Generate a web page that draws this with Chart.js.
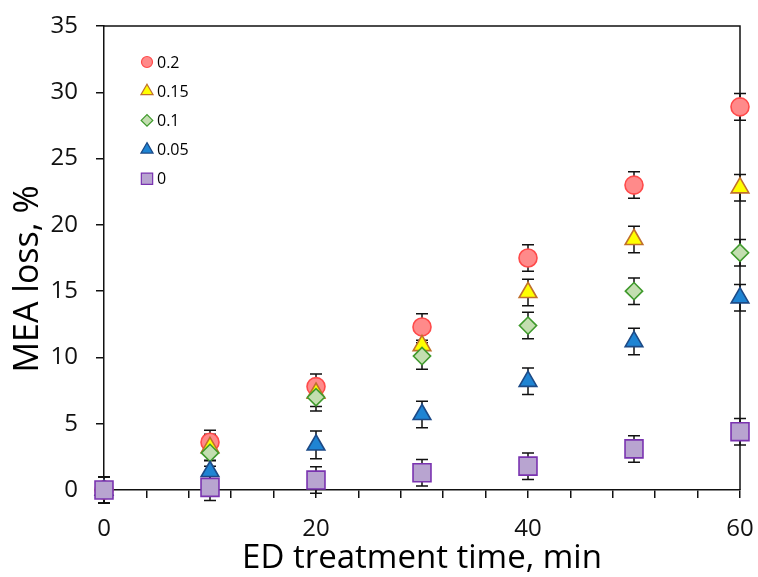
<!DOCTYPE html>
<html>
<head>
<meta charset="utf-8">
<title>MEA loss</title>
<script src="https://cdn.jsdelivr.net/npm/chart.js@4.4.1/dist/chart.umd.min.js"></script>
<style>
  html, body { margin: 0; padding: 0; background: #fff; }
  #wrap { width: 758px; height: 577px; position: relative; }
</style>
</head>
<body>
<div id="wrap"><canvas id="chart"></canvas></div>
<script>
// ED treatment time, min
const times = [0, 10, 20, 30, 40, 50, 60];

// MEA loss, % for each series (legend label)
const seriesLabels = ['0.2', '0.15', '0.1', '0.05', '0'];
const loss02 = [0, 3.6, 7.8, 12.3, 17.5, 23.0, 28.9];
const loss015 = [0, 3.2, 7.3, 10.9, 14.9, 18.9, 22.8];
const loss01 = [0, 2.8, 7.0, 10.1, 12.4, 15.0, 17.9];
const loss005 = [0, 1.4, 3.4, 5.7, 8.2, 11.2, 14.5];
const loss0 = [0, 0.2, 0.75, 1.3, 1.8, 3.1, 4.4];

// error bar half-heights
const err02 = [1, 0.9, 0.95, 1, 1, 1, 1];
const err015 = [1, 1, 1, 1, 1, 1, 1];
const err01 = [1, 1, 1.05, 1, 1, 1, 1];
const err005 = [1, 0.85, 1.05, 1, 1, 1, 1];
const err0 = [1, 1, 1, 1, 1, 1, 1];

const yTicks = { min: 0, max: 35, step: 5 };
const xTicks = { min: 0, max: 60, step: 4, labelEvery: 20 };
const yTitle = 'MEA loss, %';
const xTitle = 'ED treatment time, min';

const styles = [
  { shape: 'circle', radius: 9, legendRadius: 5.5, fill: '#ff8a8a', stroke: '#ff4a4a' },
  { shape: 'triangle', radius: 10.2, legendRadius: 7, fill: '#ffff00', stroke: '#c0702c' },
  { shape: 'rectRot', radius: 8.6, legendRadius: 5.8, fill: '#c3deb0', stroke: '#3f9a2c' },
  { shape: 'triangle', radius: 10.2, legendRadius: 7, fill: '#1f84d3', stroke: '#1d4a86' },
  { shape: 'rect', radius: 12.7, legendRadius: 8, fill: '#b8a4d0', stroke: '#7a33b0' }
];

const values = [loss02, loss015, loss01, loss005, loss0];
const errors = [err02, err015, err01, err005, err0];

const FONT = "'Open Sans', 'DejaVu Sans', sans-serif";

const datasets = values.map((v, i) => ({
  label: seriesLabels[i],
  data: times.map((t, j) => ({ x: t, y: v[j] })),
  errors: errors[i],
  pointStyle: styles[i].shape,
  pointRadius: styles[i].radius,
  pointHoverRadius: styles[i].radius,
  backgroundColor: styles[i].fill,
  borderColor: styles[i].stroke,
  pointBorderWidth: 1.6,
  showLine: false,
  clip: false,
  order: values.length - i
}));

const frame = {
  id: 'frame',
  beforeDatasetsDraw(chart) {
    const { ctx, chartArea: a } = chart;
    ctx.save();
    ctx.strokeStyle = '#111';
    ctx.lineWidth = 1.5;
    ctx.beginPath();
    ctx.moveTo(a.left, a.top);
    ctx.lineTo(a.right, a.top);
    ctx.lineTo(a.right, a.bottom);
    ctx.stroke();
    ctx.restore();
  }
};

const errorBars = {
  id: 'errorBars',
  beforeDatasetsDraw(chart) {
    const { ctx, scales: { x, y } } = chart;
    ctx.save();
    ctx.strokeStyle = '#111';
    ctx.lineWidth = 1.5;
    chart.data.datasets.forEach(ds => {
      ds.data.forEach((p, j) => {
        const e = ds.errors[j];
        const px = x.getPixelForValue(p.x);
        const top = y.getPixelForValue(p.y + e);
        const bot = y.getPixelForValue(p.y - e);
        ctx.beginPath();
        ctx.moveTo(px, top); ctx.lineTo(px, bot);
        ctx.moveTo(px - 6, top); ctx.lineTo(px + 6, top);
        ctx.moveTo(px - 6, bot); ctx.lineTo(px + 6, bot);
        ctx.stroke();
      });
    });
    ctx.restore();
  }
};

// y title sits a little below the middle of the plot, as in the original
const yTitlePlugin = {
  id: 'yTitle',
  afterDraw(chart) {
    const { ctx, chartArea: a } = chart;
    ctx.save();
    ctx.translate(28, (a.top + a.bottom) / 2 + 21);
    ctx.rotate(-Math.PI / 2);
    ctx.font = '34px ' + FONT;
    ctx.fillStyle = '#000';
    ctx.textAlign = 'center';
    ctx.textBaseline = 'middle';
    ctx.fillText(yTitle, 0, 0);
    ctx.restore();
  }
};

const insideLegend = {
  id: 'insideLegend',
  afterDraw(chart) {
    const { ctx, chartArea: a } = chart;
    ctx.save();
    ctx.font = '16px ' + FONT;
    ctx.textBaseline = 'middle';
    chart.data.datasets.forEach((ds, i) => {
      const cx = a.left + 43;
      const cy = a.top + 36 + i * 29.2;
      ctx.fillStyle = styles[i].fill;
      ctx.strokeStyle = styles[i].stroke;
      ctx.lineWidth = 1.2;
      Chart.helpers.drawPoint(ctx, { pointStyle: styles[i].shape, radius: styles[i].legendRadius, borderWidth: 1.2 }, cx, cy);
      ctx.fillStyle = '#000';
      ctx.fillText(ds.label, a.left + 53, cy + 1);
    });
    ctx.restore();
  }
};

new Chart(document.getElementById('chart'), {
  type: 'scatter',
  data: { datasets },
  options: {
    responsive: true,
    maintainAspectRatio: false,
    animation: false,
    layout: { autoPadding: false, padding: { top: 26, right: 18, left: 0, bottom: 0 } },
    plugins: {
      legend: { display: false },
      tooltip: { enabled: false }
    },
    scales: {
      x: {
        type: 'linear',
        min: xTicks.min,
        max: xTicks.max,
        afterFit(s) { s.height = 87; s.paddingLeft = 0; s.paddingRight = 0; },
        grid: { drawOnChartArea: false, color: '#111', lineWidth: 1.5, tickLength: 8 },
        border: { color: '#111', width: 1.5 },
        ticks: {
          stepSize: xTicks.step,
          autoSkip: false,
          maxRotation: 0,
          padding: 17,
          color: '#111',
          font: { family: FONT, size: 24 },
          callback: v => (v % xTicks.labelEvery === 0 ? String(v) : '')
        },
        title: {
          display: true,
          text: xTitle,
          color: '#000',
          font: { family: FONT, size: 33, lineHeight: 1.1 },
          padding: { top: 0, bottom: 0 }
        }
      },
      y: {
        type: 'linear',
        min: yTicks.min,
        max: yTicks.max,
        afterFit(s) { s.width = 104; s.paddingTop = 0; s.paddingBottom = 0; },
        grid: { drawOnChartArea: false, color: '#111', lineWidth: 1.5, tickLength: 8 },
        border: { color: '#111', width: 1.5 },
        ticks: {
          stepSize: yTicks.step,
          padding: 18,
          color: '#111',
          font: { family: FONT, size: 24 }
        }
      }
    }
  },
  plugins: [frame, errorBars, yTitlePlugin, insideLegend]
});
</script>
</body>
</html>
